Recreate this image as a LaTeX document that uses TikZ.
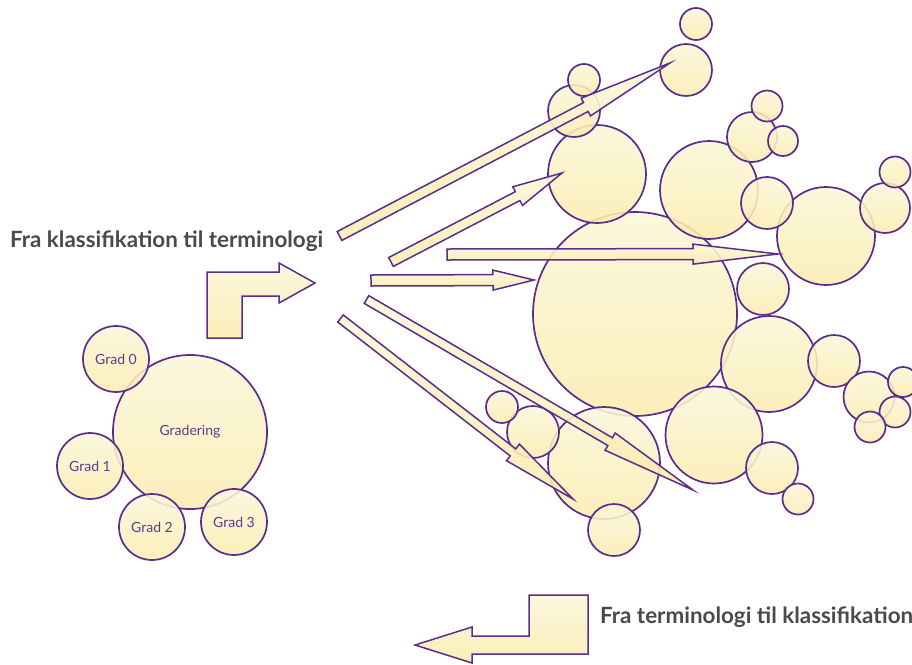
\documentclass[tikz,border=0pt]{standalone}
\usepackage{fontspec}
\setmainfont{Lato}
\usetikzlibrary{calc}
\definecolor{ink}{HTML}{5B2C8C}
\definecolor{fillA}{HTML}{FBF7DA}
\definecolor{fillB}{HTML}{FAECB0}
\definecolor{labelc}{HTML}{5E3B8C}
\definecolor{titlec}{HTML}{4A4A4A}
\tikzset{
  bubble/.style={circle, draw=ink, line width=1.7pt, top color=fillA, bottom color=fillB,
    fill opacity=0.88, text opacity=1, inner sep=0pt, minimum size=#1pt,
    text=labelc, font=\fontsize{14}{16}\selectfont},
  blockshape/.style={draw=ink, line width=1.5pt, top color=fillA, bottom color=fillB,
    fill opacity=0.9, line join=miter},
  titletext/.style={text=titlec, font=\fontsize{22.4}{26}\selectfont\bfseries, inner sep=0pt, anchor=west}
}
\newcommand\blkarrow[5]{%
  \coordinate (hb) at ($(#2)!#5pt!(#1)$);
  \draw[blockshape] ($(#1)!#3pt!90:(#2)$) -- ($(hb)!#3pt!90:(#2)$) -- ($(hb)!#4pt!90:(#2)$)
    -- (#2) -- ($(hb)!#4pt!-90:(#2)$) -- ($(hb)!#3pt!-90:(#2)$) -- ($(#1)!#3pt!-90:(#2)$) -- cycle;
}
\begin{document}
\begin{tikzpicture}[x=1pt,y=-1pt]
\useasboundingbox (0,0) rectangle (912,664);

% left cluster
\node[bubble=154] (grad) at (190,432) {Gradering};
\node[bubble=66] (g0) at (116,359) {Grad 0};
\node[bubble=66] (g1) at (90,466) {Grad 1};
\node[bubble=66] (g2) at (152,527) {Grad 2};
\node[bubble=66] (g3) at (234,522) {Grad 3};

% right cluster
\node[bubble=204] (giant) at (635,314) {};
\node[bubble=112] (c1) at (604,463) {};
\node[bubble=98] (c2) at (597,174) {};
\node[bubble=98] (c3) at (709,190) {};
\node[bubble=98] (c4) at (826,236) {};
\node[bubble=96] (c5) at (769,364) {};
\node[bubble=97] (c6) at (714,435) {};
\node[bubble=52] (c7) at (686,70) {};
\node[bubble=52] (c8) at (574,111) {};
\node[bubble=50] (c9) at (752,137) {};
\node[bubble=52] (c10) at (767,203) {};
\node[bubble=50] (c11) at (885,208) {};
\node[bubble=52] (c12) at (763,289) {};
\node[bubble=52] (c13) at (834,361) {};
\node[bubble=51] (c14) at (869,397) {};
\node[bubble=52] (c15) at (772,468) {};
\node[bubble=52] (c16) at (533,432) {};
\node[bubble=52] (c17) at (614,530) {};
\node[bubble=32] (s1) at (696,24) {};
\node[bubble=32] (s2) at (584,80) {};
\node[bubble=31] (s3) at (767,106) {};
\node[bubble=30] (s4) at (783,141) {};
\node[bubble=31] (s5) at (895,172) {};
\node[bubble=30] (s6) at (903,382) {};
\node[bubble=31] (s7) at (895,412) {};
\node[bubble=31] (s8) at (870,427) {};
\node[bubble=31] (s9) at (798,499) {};
\node[bubble=32] (s10) at (502,407) {};

% long arrows
\coordinate (a1) at (339.5,236); \coordinate (b1) at (670,63);
\coordinate (a2) at (391,262);   \coordinate (b2) at (562,173);
\coordinate (a3) at (447,254.5); \coordinate (b3) at (778,254);
\coordinate (a4) at (371,280.5); \coordinate (b4) at (534,280);
\coordinate (a5) at (366.5,299.5); \coordinate (b5) at (693,490);
\coordinate (a6) at (340.5,318.5); \coordinate (b6) at (573,499);
\blkarrow{a1}{b1}{5}{10}{95}
\blkarrow{a2}{b2}{5}{10.5}{50}
\blkarrow{a3}{b3}{5.5}{10}{85}
\blkarrow{a4}{b4}{5.5}{10}{41}
\blkarrow{a5}{b5}{4.5}{10}{96}
\blkarrow{a6}{b6}{4.5}{10.5}{76}

% bent arrows
\draw[blockshape] (207,338) -- (207,272) -- (279,272) -- (279,263) -- (315,283)
  -- (279,303) -- (279,296) -- (242,296) -- (242,338) -- cycle;
\draw[blockshape] (588,595) -- (588,654) -- (472,654) -- (472,663) -- (415,645)
  -- (472,627) -- (472,636) -- (529,636) -- (529,595) -- cycle;

% titles
\node[titletext] (t1) at (10,241) {Fra klassifikation til terminologi};
\node[titletext] (t2) at (600,617) {Fra terminologi til klassifikation};
\end{tikzpicture}
\end{document}
